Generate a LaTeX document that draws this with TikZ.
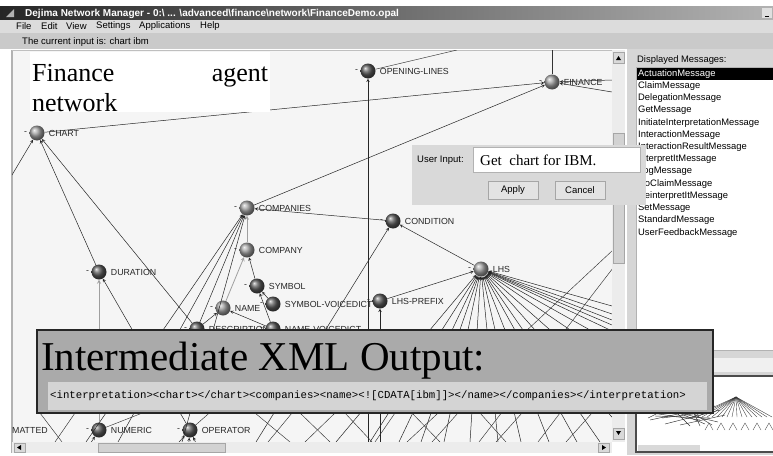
\documentclass[tikz,border=0pt]{standalone}
\usepackage{fontspec}
\setmainfont{Liberation Serif}
\setsansfont{Liberation Sans}
\setmonofont{Liberation Mono}
\usepackage{xcolor}
\usepackage{tikz}
\usetikzlibrary{positioning,shadings}
\definecolor{canvasbg}{RGB}{245,245,245}
\definecolor{panelbg}{RGB}{214,214,214}
\definecolor{menubg}{RGB}{220,220,220}
\definecolor{statusbg}{RGB}{202,202,202}
\definecolor{xmlbox}{RGB}{170,170,170}
\definecolor{xmlinner}{RGB}{212,212,212}
\definecolor{titledark}{RGB}{38,38,38}
\definecolor{titlelight}{RGB}{178,178,178}

\begin{document}
\begin{tikzpicture}[x=1pt, y=-1pt,
  tag/.style={font=\sffamily\fontsize{8.8}{10}\selectfont, inner sep=0pt, text=black!85},
  lbl/.style={tag, xshift=4pt},
  minus/.style={tag, xshift=-2pt},
  ball/.style={circle, inner sep=0pt, minimum size=15pt, shading=ball, ball color=gray!75, label={[minus]left:-}},
  darkball/.style={ball, ball color=black!65},
  ui/.style={font=\sffamily\fontsize{9.5}{11}\selectfont, inner sep=0pt, anchor=west},
  item/.style={font=\sffamily\fontsize{9.4}{11}\selectfont, inner sep=0pt, anchor=west},
  arrow/.style={->, >=stealth, black!85, line width=0.5pt},
  grayarrow/.style={->, >=stealth, gray!75, line width=0.8pt},
  wire/.style={black!80, line width=0.45pt},
  button/.style={rectangle, draw=gray!70, fill=gray!22, minimum width=50pt, minimum height=18pt, font=\sffamily\fontsize{9.5}{11}\selectfont}
]
\useasboundingbox (0,0) rectangle (773,455);
\fill[white] (0,0) rectangle (773,455);

% Window frame
\shade[left color=titledark, right color=titlelight] (0,6) rectangle (773,20);
\fill[gray!60] (6,17) -- (14,9) -- (14,17) -- cycle;
\node[font=\sffamily\bfseries\fontsize{10}{11}\selectfont, text=white, anchor=west, inner sep=0pt] (wintitle) at (25,13.5)
  {Dejima Network Manager - 0:\textbackslash{} ... \textbackslash advanced\textbackslash finance\textbackslash network\textbackslash FinanceDemo.opal};
\fill[gray!25] (762,8) rectangle (772,18);
\draw[black, line width=1pt] (765,16) -- (769,16);
\fill[menubg] (0,20) rectangle (773,33);
\node[ui] (mfile) at (16,26.5) {File};
\node[ui] (medit) at (41,26.5) {Edit};
\node[ui] (mview) at (66,26.5) {View};
\node[ui] (msettings) at (96,26.5) {Settings};
\node[ui] (mapps) at (139,26.5) {Applications};
\node[ui] (mhelp) at (200,26.5) {Help};
\fill[statusbg] (0,33) rectangle (773,49);
\node[ui] (status) at (22,42) {The current input is: chart ibm};

% Canvas
\fill[canvasbg] (12,50) rectangle (612,442);
\draw[gray!60, line width=1.2pt] (12,50) -- (12,453);
\draw[gray!50] (12,50) -- (612,50);

\begin{scope}
\clip (12,50) rectangle (612,442);

% Agents
\node[ball, label={[lbl]right:CHART}] (chart) at (37,133) {};
\node[darkball, label={[lbl]right:OPENING-LINES}] (opening) at (368,71) {};
\node[ball, label={[lbl]right:FINANCE}] (finance) at (552,82) {};
\node[ball, label={[lbl]right:COMPANIES}] (companies) at (247,208) {};
\node[ball, label={[lbl]right:COMPANY}] (company) at (247,250) {};
\node[darkball, label={[lbl]right:SYMBOL}] (symbol) at (257,286) {};
\node[darkball, label={[lbl]right:SYMBOL-VOICEDICT}] (symvoice) at (273,304) {};
\node[ball, label={[lbl]right:NAME}] (name) at (223,308) {};
\node[darkball, label={[lbl]right:CONDITION}] (condition) at (393,221) {};
\node[darkball, label={[lbl]right:LHS-PREFIX}] (lhsprefix) at (380,301) {};
\node[ball, label={[lbl]right:LHS}] (lhs) at (481,269) {};
\node[darkball, label={[lbl]right:DURATION}] (duration) at (99,272) {};
\node[darkball, label={[lbl]right:DESCRIPTION}] (description) at (197,329) {};
\node[darkball, label={[lbl]right:NAME-VOICEDICT}] (namevoice) at (273,329) {};
\node[darkball, label={[lbl]right:NUMERIC}] (numeric) at (99,430) {};
\node[darkball, label={[lbl]right:OPERATOR}] (operator) at (190,430) {};
\node[tag, anchor=west] (formatted) at (12,430) {MATTED};

% Loose ends
\coordinate (topA) at (457,50);
\coordinate (topB) at (552,50);
\coordinate (rightA) at (612,80);
\coordinate (rightB) at (612,92);
\coordinate (leftC) at (12,175);
\coordinate (belowOL) at (368,442);
\coordinate (belowC) at (256,442);
\coordinate (belowLP) at (380,442);
\coordinate (numup) at (150,410);
\coordinate (opup) at (215,408);

% Links
\draw[arrow] (chart) -- (finance);
\draw[arrow] (companies) -- (finance);
\draw[wire] (opening) -- (topA);
\draw[wire] (finance) -- (topB);
\draw[arrow] (rightA) -- (finance);
\draw[arrow] (rightB) -- (finance);
\draw[arrow] (belowOL) -- (opening);
\draw[arrow] (leftC) -- (chart);
\draw[arrow] (duration) -- (chart);
\draw[arrow] (description) -- (chart);
\draw[arrow] (condition) -- (companies);
\draw[grayarrow] (company) -- (companies);
\draw[arrow] (description) -- (companies);
\foreach \x in {86,118,182} {
  \coordinate (co\x) at (\x,442);
  \draw[arrow] (co\x) -- (companies);
}
\draw[arrow] (symbol) -- (company);
\draw[grayarrow] (name) -- (company);
\draw[arrow] (symvoice) -- (symbol);
\draw[arrow] (namevoice) -- (symbol);
\draw[arrow] (namevoice) -- (name);
\draw[arrow] (description) -- (name);
\draw[arrow] (belowC) -- (condition);
\draw[arrow] (lhs) -- (condition);
\draw[arrow] (lhsprefix) -- (lhs);
\draw[arrow] (belowLP) -- (lhsprefix);
\draw[grayarrow] (numeric) -- (duration);
\draw[arrow] (operator) -- (duration);
\draw[wire] (numeric) -- (numup);
\draw[wire] (operator) -- (opup);
\foreach \x in {85,170,188,200} {
  \coordinate (bot\x) at (\x,452);
}
\draw[arrow] (bot85) -- (numeric);
\draw[arrow] (bot170) -- (operator);
\draw[arrow] (bot188) -- (operator);
\draw[arrow] (bot200) -- (operator);

% LHS fan
\foreach \x in {336,370,399,421,444,470,498,521,549,577,600,634,677,734,790,847} {
  \coordinate (fan\x) at (\x,442);
  \draw[arrow] (fan\x) -- (lhs);
}
\foreach \y in {306,314,320,325} {
  \coordinate (side\y) at (612,\y);
  \draw[arrow] (side\y) -- (lhs);
}
\coordinate (crossA) at (407,442);
\coordinate (crossB) at (613,250);
\coordinate (crossC) at (479,442);
\coordinate (crossD) at (613,268);
\draw[wire] (crossA) -- (crossB);
\draw[wire] (crossC) -- (crossD);
\foreach \a/\b in {255/290, 292/268, 300/330, 335/305, 345/372, 395/375, 412/440, 458/432, 480/506, 522/496, 560/538, 592/566, 40/62, 75/55} {
  \coordinate (wa\a) at (\a,413);
  \coordinate (wb\a) at (\b,442);
  \draw[wire] (wa\a) -- (wb\a);
}
\end{scope}

% Scrollbars
\fill[gray!15] (612,50) rectangle (625,442);
\draw[gray!70, fill=gray!30] (613,52) rectangle (624,63);
\fill[black] (616,60) -- (621,60) -- (618.5,56) -- cycle;
\draw[gray!70, fill=gray!35] (613,133) rectangle (624,263);
\draw[gray!70, fill=gray!30] (613,428) rectangle (624,439);
\fill[black] (616,431) -- (621,431) -- (618.5,435) -- cycle;
\fill[gray!15] (12,442) rectangle (612,453);
\draw[gray!70, fill=gray!30] (14,443) rectangle (25,452);
\fill[black] (21,445) -- (21,450) -- (17,447.5) -- cycle;
\draw[gray!70, fill=gray!35] (98,443) rectangle (225,452);
\draw[gray!70, fill=gray!30] (598,443) rectangle (609,452);
\fill[black] (602,445) -- (602,450) -- (606,447.5) -- cycle;

% Message panel
\fill[panelbg] (627,49) rectangle (773,455);
\node[item] (shown) at (637,60) {Displayed Messages:};
\draw[gray!60, fill=white] (636,67) rectangle (774,350);
\fill[black] (637,68) rectangle (773,80);
\node[item, text=white] (msg1) at (638,74) {ActuationMessage};
\foreach \msg [count=\i from 2] in {ClaimMessage, DelegationMessage, GetMessage, InitiateInterpretationMessage,
  InteractionMessage, InteractionResultMessage, InterpretItMessage, LogMessage, NoClaimMessage,
  ReinterpretItMessage, SetMessage, StandardMessage, UserFeedbackMessage} {
  \node[item] (msg\i) at (638,{74+12.2*(\i-1)}) {\msg};
}
\fill[gray!12] (630,358) rectangle (773,372);

% Overview
\draw[black!70, line width=1.5pt, fill=white] (636,376) rectangle (774,452);
\fill[gray!30] (638,445) rectangle (700,451);
\foreach \x in {692,697,...,772} {
  \draw[black!80, line width=0.35pt] (736,397) -- (\x,417);
}
\foreach \a/\b/\c/\d in {645/412/700/420, 650/420/715/406, 660/405/705/424, 665/424/720/410, 672/408/690/426,
  680/425/725/415, 655/416/710/418, 690/404/700/426, 648/418/668/408, 675/412/718/422, 662/418/708/412, 686/409/712/425} {
  \draw[black!80, line width=0.45pt] (\a,\b) -- (\c,\d);
}
\foreach \x in {705,717,...,765} {
  \draw[black!70, line width=0.35pt] (\x,430) -- (\x+4,423) -- (\x+8,430);
}

% Title overlay
\fill[white] (30,52) rectangle (270,112);
\node[font=\fontsize{26}{30}\selectfont, text width=236pt, align=justify, inner sep=0pt, anchor=north west] (fintitle) at (32,64)
  {Finance agent\linebreak network};

% Input dialog
\fill[gray!30] (412,145) rectangle (646,205);
\draw[gray!60, fill=white] (473,147) rectangle (640,172);
\node[ui] (inputlbl) at (417,160.5) {User Input:};
\node[font=\fontsize{15}{17}\selectfont, anchor=west, inner sep=0pt] (inputtxt) at (480,160) {Get~ chart for IBM.};
\node[button] (apply) at (513,190) {Apply};
\node[button] (cancel) at (580,190) {Cancel};

% XML output overlay
\draw[black!85, line width=1.6pt, fill=xmlbox] (37,330) rectangle (713,413);
\fill[xmlinner] (48,382) rectangle (707,410);
\node[font=\fontsize{41}{44}\selectfont, anchor=base west, inner sep=0pt] (xmltitle) at (41,370) {Intermediate XML Output:};
\node[font=\ttfamily\fontsize{10.7}{12}\selectfont, anchor=west, inner sep=0pt] (xmltext) at (50,396)
  {<interpretation><chart></chart><companies><name><![CDATA[ibm]]></name></companies></interpretation>};
\end{tikzpicture}
\end{document}
